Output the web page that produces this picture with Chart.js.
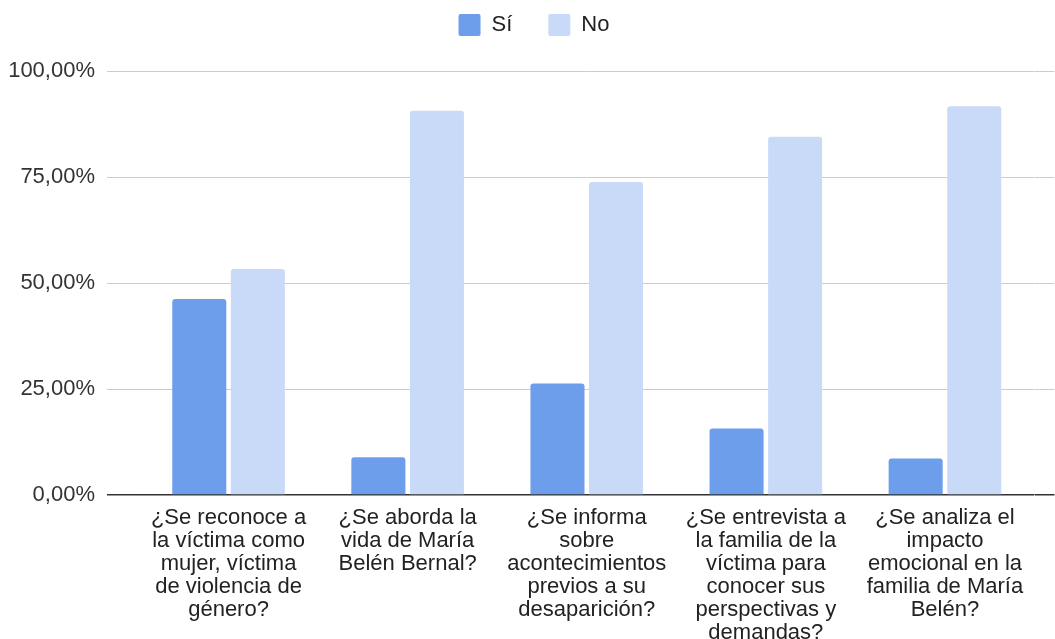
<!DOCTYPE html>
<html>
<head>
<meta charset="utf-8">
<script src="https://cdn.jsdelivr.net/npm/chart.js@4.4.1/dist/chart.umd.min.js"></script>
<style>
  html, body { margin: 0; padding: 0; background: #ffffff; }
  #wrap { width: 1055px; height: 639px; }
</style>
</head>
<body>
<div id="wrap"><canvas id="c" width="1055" height="639"></canvas></div>
<script>
const categories = [
  ['¿Se reconoce a', 'la víctima como', 'mujer, víctima', 'de violencia de', 'género?'],
  ['¿Se aborda la', 'vida de María', 'Belén Bernal?'],
  ['¿Se informa', 'sobre', 'acontecimientos', 'previos a su', 'desaparición?'],
  ['¿Se entrevista a', 'la familia de la', 'víctima para', 'conocer sus', 'perspectivas y', 'demandas?'],
  ['¿Se analiza el', 'impacto', 'emocional en la', 'familia de María', 'Belén?']
];
const seriesNames = ['Sí', 'No'];
const siValues = [46.2, 8.9, 26.3, 15.7, 8.6];
const noValues = [53.3, 90.6, 73.8, 84.5, 91.7];
const yTickLabels = ['0,00%', '25,00%', '50,00%', '75,00%', '100,00%'];

const FONT = '"Liberation Sans", Arial, sans-serif';
const gridCol = (ctx) => (ctx.tick && ctx.tick.value === 0) ? '#333333' : '#cccccc';
const gridW = (ctx) => (ctx.tick && ctx.tick.value === 0) ? 1.5 : 1;

const legendSpacer = {
  id: 'legendSpacer',
  beforeInit(chart) {
    const lg = chart.legend;
    if (lg && !lg._patched) {
      const orig = lg.fit;
      lg.fit = function () { orig.call(this); this.height += 25; };
      lg._patched = true;
    }
  }
};

new Chart(document.getElementById('c'), {
  type: 'bar',
  data: {
    labels: categories,
    datasets: [
      { label: seriesNames[0], data: siValues, backgroundColor: '#6d9eeb', borderRadius: 3, borderSkipped: 'start',
        categoryPercentage: 0.654, barPercentage: 0.923 },
      { label: seriesNames[1], data: noValues, backgroundColor: '#c9daf8', borderRadius: 3, borderSkipped: 'start',
        categoryPercentage: 0.654, barPercentage: 0.923 }
    ]
  },
  plugins: [legendSpacer],
  options: {
    responsive: false,
    animation: false,
    layout: { padding: { top: -22, left: 6, right: -7, bottom: 0 } },
    plugins: {
      legend: {
        position: 'top',
        labels: {
          boxWidth: 22, boxHeight: 22, padding: 36,
          useBorderRadius: true, borderRadius: 2,
          color: '#222222',
          font: { family: FONT, size: 22 }
        }
      },
      tooltip: { enabled: false }
    },
    scales: {
      x: {
        grid: { display: false, drawTicks: false },
        border: { display: false },
        ticks: {
          autoSkip: false, maxRotation: 0, minRotation: 0, padding: 11,
          color: '#222222',
          font: { family: FONT, size: 22, lineHeight: 1.045 }
        },
        afterFit(scale) { scale.height = 144; }
      },
      y: {
        position: 'left',
        min: 0, max: 100,
        border: { display: false },
        grid: { color: gridCol, tickColor: gridCol, lineWidth: gridW, tickWidth: gridW, tickLength: 32, drawTicks: true },
        ticks: {
          stepSize: 25, padding: 12, color: '#333333',
          font: { family: FONT, size: 22 },
          callback: (v, i) => yTickLabels[i]
        },
        afterFit(scale) { scale.width = 133; }
      },
      y2: {
        position: 'right',
        min: 0, max: 100,
        border: { display: false },
        grid: { drawOnChartArea: false, color: gridCol, tickColor: gridCol, lineWidth: gridW, tickWidth: gridW, tickLength: 20, drawTicks: true },
        ticks: { stepSize: 25, display: false },
        afterFit(scale) { scale.width = 27.5; }
      }
    }
  }
});
</script>
</body>
</html>
